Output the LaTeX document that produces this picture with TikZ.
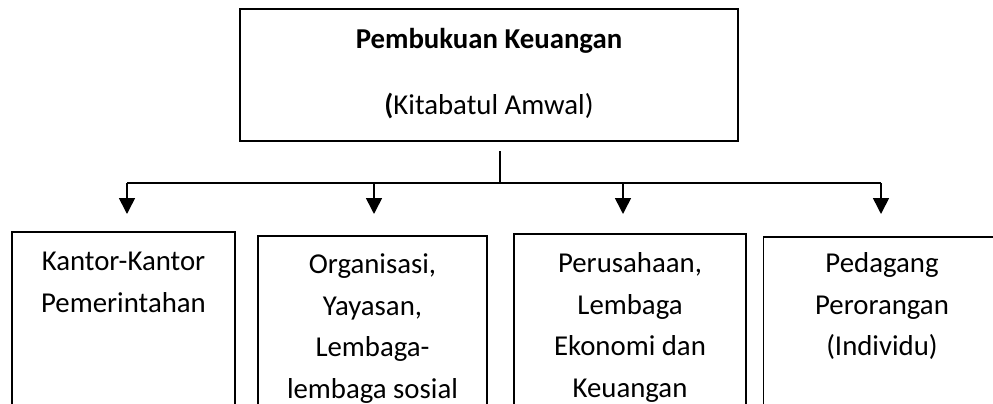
\documentclass[tikz,border=0pt]{standalone}
\usepackage{fontspec}
\setmainfont{Carlito}
\usetikzlibrary{arrows.meta}

\def\barY{183}
\def\lw{1.6pt}

\tikzset{
  headbox/.style={draw, line width=\lw, inner sep=0pt, anchor=north, align=flush center,
    text width=498pt, text height=40pt, text depth=92pt,
    font=\fontsize{28.8}{66}\selectfont},
  unitbox/.style={draw, line width=\lw, inner sep=0pt, anchor=north, align=flush center,
    text height=39pt, text depth=220pt,
    font=\fontsize{28.8}{41.5}\selectfont},
  branch/.style={line width=\lw},
  down/.style={line width=\lw, -{Triangle[width=16pt,length=16pt]}}
}

\begin{document}
\begin{tikzpicture}[x=1pt, y=-1pt]
        \useasboundingbox (0,0) rectangle (993,404);
        \clip (0,0) rectangle (993,404);
        % main box
        \node[headbox] (buku) at (489,8) {\textbf{Pembukuan Keuangan}\\\textbf{(}Kitabatul Amwal)};
        % users of the books
        \node[unitbox, text width=223pt] (kantor) at (123.5,231) {Kantor-Kantor\\Pemerintahan};
        \node[unitbox, text width=229pt, text height=38pt] (organisasi) at (372.5,235) {Organisasi,\\Yayasan,\\Lembaga-\\lembaga sosial};
        \node[unitbox, text width=232pt] (perusahaan) at (630,233) {Perusahaan,\\Lembaga\\Ekonomi dan\\Keuangan};
        \node[unitbox, text width=237pt, text height=36pt] (pedagang) at (882,236) {Pedagang\\Perorangan\\(Individu)};
        % stem down to the bar
        \coordinate (stem) at (500,151);
        \coordinate (hub) at (500,\barY);
        \draw[branch] (stem) -- (hub);
        % bar and arrows
        \foreach \x/\u in {127/kantor, 374/organisasi, 623/perusahaan, 881/pedagang}
            \coordinate (drop\u) at (\x,\barY);
        \draw[branch] (dropkantor) -- (droppedagang);
        \foreach \u/\gap in {kantor/17, organisasi/21, perusahaan/19, pedagang/22}
            \draw[down, shorten >=\gap pt] (drop\u) -- (drop\u |- \u.north);
    \end{tikzpicture}
\end{document}
